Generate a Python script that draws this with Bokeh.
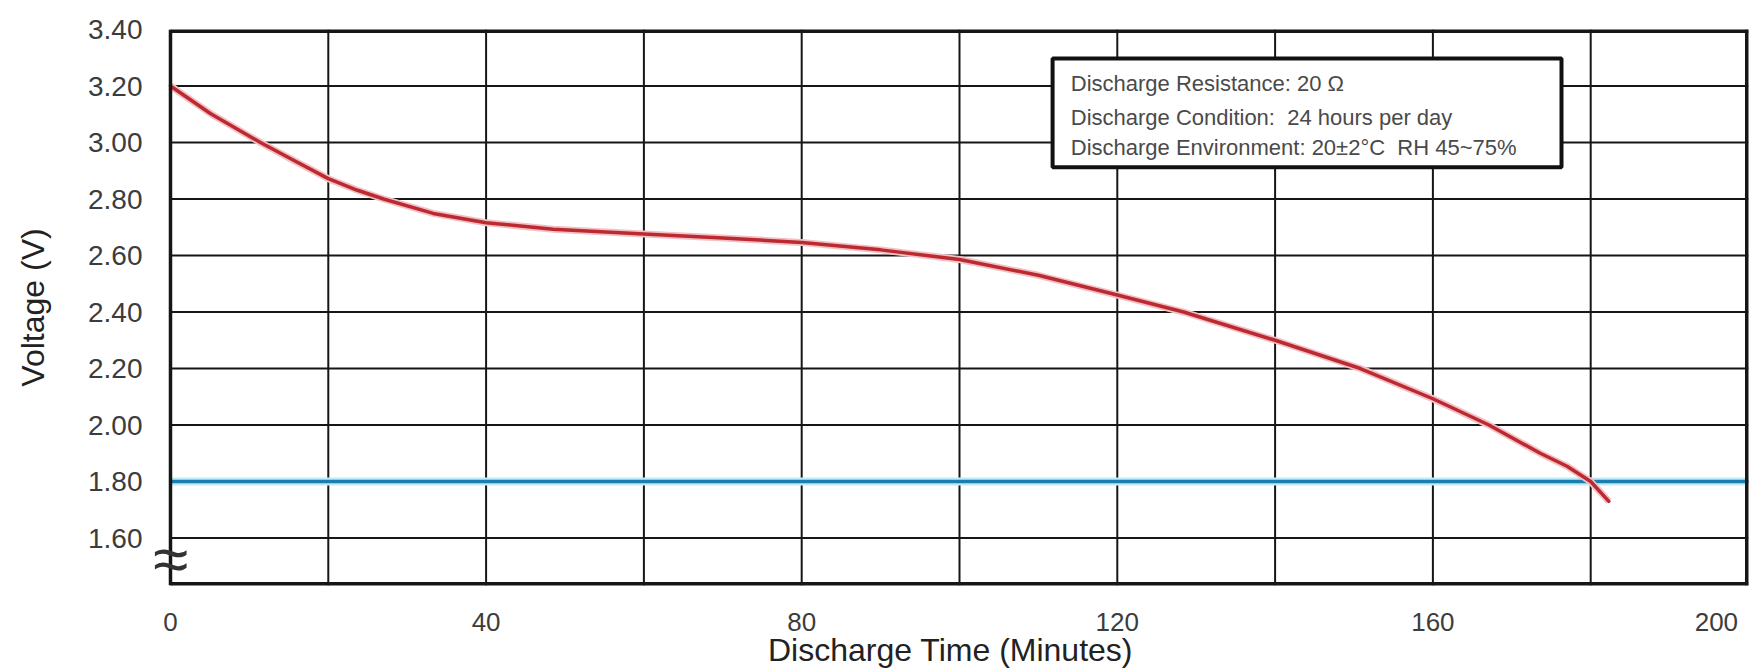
from bokeh.plotting import figure
from bokeh.models import FixedTicker, Label, BoxAnnotation, NumeralTickFormatter, Range1d
from bokeh.embed import file_html
from bokeh.resources import INLINE

# ---- data ----
time_min = [0, 5.1, 11.4, 15.6, 20, 23.7, 27, 33.3, 40, 48.5, 60, 70, 80, 90, 100, 110, 120,
            128.4, 140, 150.8, 160, 167.1, 173.6, 177, 180, 182.3]
voltage = [3.20, 3.102, 3.00, 2.937, 2.872, 2.831, 2.80, 2.749, 2.716, 2.693, 2.676, 2.662,
           2.646, 2.62, 2.586, 2.53, 2.46, 2.40, 2.30, 2.20, 2.093, 2.00, 1.90, 1.854, 1.80, 1.73]
cutoff_time = [0, 200]
cutoff_voltage = [1.80, 1.80]
x_ticks = [0, 40, 80, 120, 160, 200]
x_grid = [20, 40, 60, 80, 100, 120, 140, 160, 180]
y_ticks = [1.6, 1.8, 2.0, 2.2, 2.4, 2.6, 2.8, 3.0, 3.2, 3.4]
y_grid = [1.6, 1.8, 2.0, 2.2, 2.4, 2.6, 2.8, 3.0, 3.2]
info_lines = ["Discharge Resistance: 20 Ω",
              "Discharge Condition:\u00a0 24 hours per day",
              "Discharge Environment: 20\u00b12\u00b0C\u00a0 RH 45~75%"]

X0, X1 = 0, 200
Y0, Y1 = 1.432, 3.40
FONT = "Liberation Sans"
TXT = "#3c3c3c"
LINE = "#161616"

p = figure(width=1752, height=670, x_range=Range1d(-2.28, X1), y_range=Range1d(Y0, Y1),
           output_backend="svg", toolbar_location=None,
           min_border_left=152, min_border_right=4, min_border_top=29, min_border_bottom=84)
p.background_fill_color = "white"
p.border_fill_color = "white"
p.outline_line_color = None
p.xgrid.visible = False
p.ygrid.visible = False

# grid lines (from axis to right edge)
p.segment(x0=x_grid, x1=x_grid, y0=[Y0] * len(x_grid), y1=[Y1] * len(x_grid),
          line_color=LINE, line_width=2)
p.segment(x0=[X0] * len(y_grid), x1=[X1] * len(y_grid), y0=y_grid, y1=y_grid,
          line_color=LINE, line_width=2)

p.xaxis.ticker = FixedTicker(ticks=x_ticks)
p.yaxis.ticker = FixedTicker(ticks=y_ticks)
p.yaxis.formatter = NumeralTickFormatter(format="0.00")
p.xaxis.major_label_overrides = {200: "200" + "\u00a0" * 2}
for ax in (p.xaxis, p.yaxis):
    ax.axis_line_color = None
    ax.major_tick_line_color = None
    ax.minor_tick_line_color = None
    ax.major_label_text_font = FONT
    ax.major_label_text_color = TXT
    ax.axis_label_text_font = FONT
    ax.axis_label_text_color = "#222222"
    ax.axis_label_text_font_style = "normal"
    ax.axis_label_text_font_size = "32px"
p.xaxis.major_label_text_font_size = "26px"
p.yaxis.major_label_text_font_size = "28px"
p.xaxis.major_label_standoff = 15
p.yaxis.major_label_standoff = 4
p.xaxis.axis_label = "Discharge Time (Minutes)"
p.yaxis.axis_label = "Voltage (V)"
p.xaxis.axis_label_standoff = -8
p.yaxis.axis_label_standoff = 34

# cutoff line with a soft halo
p.line(cutoff_time, cutoff_voltage, line_color="#bfeaf7", line_width=8)
p.line(cutoff_time, cutoff_voltage, line_color="#1a7fae", line_width=3.5)

# discharge curve
p.line(time_min, voltage, line_color="#f3c0c5", line_width=7, line_join="round")
p.line(time_min, voltage, line_color="#bb2a31", line_width=3.5, line_join="round", line_cap="round")

# frame: left axis line plus top / right / bottom borders
p.segment(x0=[X0], x1=[X0], y0=[Y0], y1=[Y1], line_color=LINE, line_width=3.5)
p.segment(x0=[X0, X0, X1], x1=[X1, X1, X1], y0=[Y1, Y0, Y0], y1=[Y1, Y0, Y1],
          line_color=LINE, line_width=7)

# axis break mark
p.add_layout(Label(x=X0, y=1.525, text="\u2248", text_align="center", text_baseline="middle",
                   text_font=FONT, text_font_size="64px", text_color="#333333"))

# info box
p.add_layout(BoxAnnotation(left=111.8, right=176.3, top=3.297, bottom=2.912,
                           fill_color="white", fill_alpha=1.0,
                           line_color="#111111", line_alpha=1.0, line_width=4, level="overlay"))
for txt, yv in zip(info_lines, [3.209, 3.089, 2.983]):
    p.add_layout(Label(x=114.1, y=yv, text=txt, text_align="left", text_baseline="middle",
                       text_font=FONT, text_font_size="22px", text_color="#4a4a4a",
                       level="overlay"))

open("out.html", "w").write(file_html(p, INLINE))
